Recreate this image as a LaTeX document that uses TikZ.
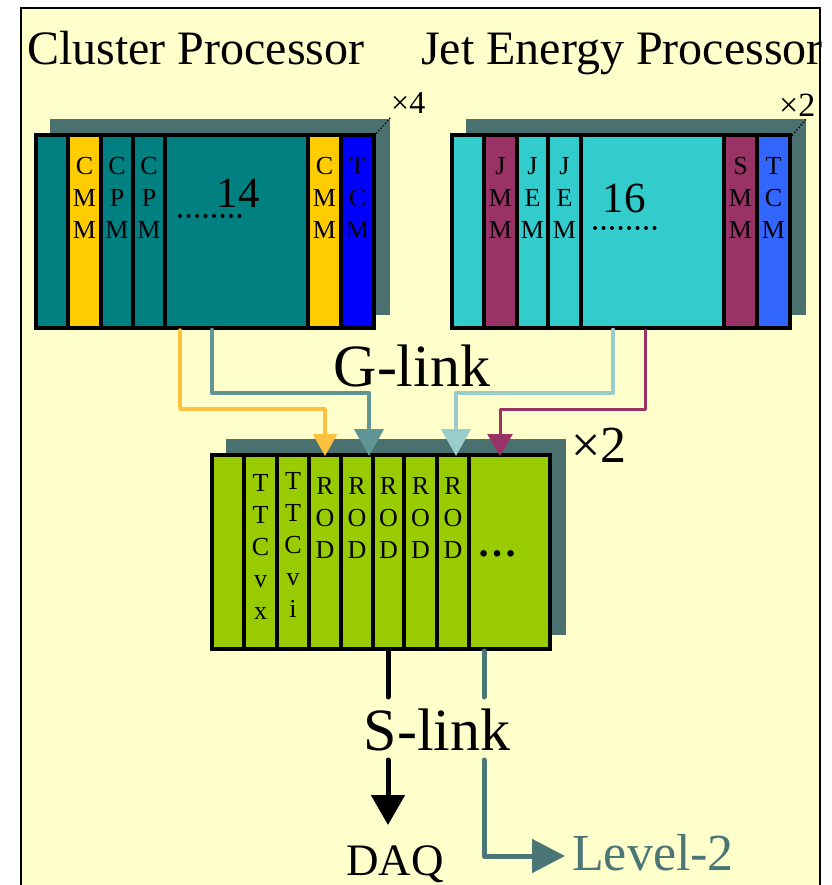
\documentclass[tikz,border=0pt]{standalone}
\usepackage{fontspec}
\setmainfont{Liberation Serif}
\usetikzlibrary{arrows.meta}
\definecolor{bgyellow}{HTML}{FFFFCC}
\definecolor{shadowc}{HTML}{4A7070}
\definecolor{cpteal}{HTML}{008080}
\definecolor{jecyan}{HTML}{33CCCC}
\definecolor{cmmyellow}{HTML}{FFCC00}
\definecolor{tcmblue}{HTML}{0000FF}
\definecolor{tcmblueb}{HTML}{3366FF}
\definecolor{jmaroon}{HTML}{993366}
\definecolor{rodgreen}{HTML}{99CC00}
\definecolor{glyellow}{HTML}{FFC040}
\definecolor{glteal}{HTML}{5F9595}
\definecolor{glblue}{HTML}{99CCCC}
\definecolor{ltwo}{HTML}{4A7676}
\begin{document}
\begin{tikzpicture}[x=1pt,y=-1pt,
  slotbox/.style={draw=black,line width=3.8pt,line join=miter},
  slottext/.style={anchor=north,inner sep=0pt,align=center,font=\fontsize{26}{32}\selectfont},
  title/.style={anchor=base west,inner sep=0pt,font=\fontsize{48}{50}\selectfont},
  bigtext/.style={anchor=base,inner sep=0pt,font=\fontsize{60}{62}\selectfont},
  numtext/.style={anchor=base,inner sep=0pt,font=\fontsize{43}{45}\selectfont},
  multtext/.style={anchor=base west,inner sep=0pt,font=\fontsize{32}{34}\selectfont},
  dotline/.style={line width=4pt,line cap=round,dash pattern=on 0pt off 8.5pt},
  glink/.style={line cap=round,line join=round},
  cornerdots/.style={line width=1.3pt,dotted}]
\useasboundingbox (0,0) rectangle (831,885);
\fill[white] (0,0) rectangle (831,885);
\draw[fill=bgyellow,line width=1.2pt] (21,8) rectangle (820,900);

% titles
\node[title] (cptitle) at (27,65) {Cluster Processor};
\node[title] (jeptitle) at (421,65) {Jet Energy Processor};

% ---------- Cluster Processor crate ----------
\fill[shadowc] (50,119) rectangle (390,315);
\foreach \a/\b/\c in {36/68/cpteal,68/101/cmmyellow,101/133/cpteal,133/165/cpteal,165/308/cpteal,308/341/cmmyellow,341/374/tcmblue}
  \draw[slotbox,fill=\c] (\a,135) rectangle (\b,328);
\node[slottext] (cmma) at (84.5,157) {C\\M\\M};
\node[slottext] (cpma) at (117,157) {C\\P\\M};
\node[slottext] (cpmb) at (149,157) {C\\P\\M};
\node[slottext] (cmmb) at (324.5,157) {C\\M\\M};
\node[slottext] (tcma) at (357.5,157) {T\\C\\M};
\node[numtext] (fourteen) at (238,208) {14};
\coordinate (dotsaL) at (180,216);
\coordinate (dotsaR) at (241,216);
\draw[dotline] (dotsaL) -- (dotsaR);
\coordinate (cornerA) at (374,136);
\coordinate (cornerAs) at (391,117);
\draw[cornerdots] (cornerA) -- (cornerAs);
\node[multtext,font=\fontsize{32}{34}\selectfont] (xfour) at (391,114) {×4};

% ---------- Jet Energy Processor crate ----------
\fill[shadowc] (466,119) rectangle (806,315);
\foreach \a/\b/\c in {452/484/jecyan,484/517/jmaroon,517/548/jecyan,548/581/jecyan,581/724/jecyan,724/757/jmaroon,757/790/tcmblueb}
  \draw[slotbox,fill=\c] (\a,135) rectangle (\b,328);
\node[slottext] (jmm) at (500.5,157) {J\\M\\M};
\node[slottext] (jema) at (532.5,157) {J\\E\\M};
\node[slottext] (jemb) at (564.5,157) {J\\E\\M};
\node[slottext] (smm) at (740.5,157) {S\\M\\M};
\node[slottext] (tcmb) at (773.5,157) {T\\C\\M};
\node[numtext] (sixteen) at (624,213) {16};
\coordinate (dotsbL) at (595,228);
\coordinate (dotsbR) at (657,228);
\draw[dotline] (dotsbL) -- (dotsbR);
\coordinate (cornerB) at (790,138);
\coordinate (cornerBs) at (807,118);
\draw[cornerdots] (cornerB) -- (cornerBs);
\node[multtext,font=\fontsize{34}{36}\selectfont] (xtwoa) at (779,117) {×2};

% ---------- ROD crate ----------
\fill[shadowc] (226,439) rectangle (566,635);
\foreach \a/\b in {212/244,244/277,277/309,309/341,341/373,373/404,404/437,437/469,469/550}
  \draw[slotbox,fill=rodgreen] (\a,455) rectangle (\b,649);
\node[slottext] (ttcvx) at (260.5,474) {T\\T\\C\\v\\x};
\node[slottext] (ttcvi) at (293,472) {T\\T\\C\\v\\i};
\node[slottext] (roda) at (325,477) {R\\O\\D};
\node[slottext] (rodb) at (357,477) {R\\O\\D};
\node[slottext] (rodc) at (388.5,477) {R\\O\\D};
\node[slottext] (rodd) at (420.5,477) {R\\O\\D};
\node[slottext] (rode) at (453,477) {R\\O\\D};
\node[anchor=base,inner sep=0pt,font=\fontsize{40}{40}\selectfont\bfseries] (moredots) at (497,556) {…};
\node[multtext,font=\fontsize{52}{54}\selectfont] (xtwob) at (571,462) {×2};

% ---------- G-link connectors ----------
\coordinate (gyA) at (180,330);  \coordinate (gyB) at (325,456);
\coordinate (gtA) at (212,330);  \coordinate (gtB) at (369,456);
\coordinate (gbA) at (613,330);  \coordinate (gbB) at (456,456);
\coordinate (gmA) at (645,330);  \coordinate (gmB) at (500,456);
\draw[glink,glyellow,line width=3.4pt,-{Triangle[width=24pt,length=22pt]}] (gyA) -- ++(0,79) -| (gyB);
\draw[glink,glteal,line width=4.6pt,-{Triangle[width=29pt,length=27pt]}] (gtA) -- ++(0,63) -| (gtB);
\draw[glink,glblue,line width=4.6pt,-{Triangle[width=29pt,length=27pt]}] (gbA) -- ++(0,63) -| (gbB);
\draw[glink,jmaroon,line width=3pt,-{Triangle[width=25pt,length=22pt]}] (gmA) -- ++(0,79) -| (gmB);
\node[bigtext] (glinklabel) at (412,386) {G-link};

% ---------- S-link outputs ----------
\node[bigtext] (slinklabel) at (437,750) {S-link};
\node[anchor=base,inner sep=0pt,font=\fontsize{45}{47}\selectfont] (daq) at (395,875) {DAQ};
\node[anchor=base west,inner sep=0pt,text=ltwo,font=\fontsize{52}{54}\selectfont] (level) at (572,870) {Level-2};
\coordinate (sdA) at (388,651); \coordinate (sdB) at (388,697);
\coordinate (sdC) at (388,760); \coordinate (sdD) at (388,825);
\coordinate (slA) at (484,651); \coordinate (slB) at (484,697);
\coordinate (slC) at (484,760); \coordinate (slD) at (565,856);
\draw[line width=5pt,line cap=round] (sdA) -- (sdB);
\draw[line width=5pt,line cap=round,-{Triangle[width=33pt,length=30pt]}] (sdC) -- (sdD);
\draw[ltwo,line width=5pt,line cap=round] (slA) -- (slB);
\draw[ltwo,line width=5pt,line cap=round,line join=round,-{Triangle[width=33pt,length=33pt]}] (slC) |- (slD);
\end{tikzpicture}
\end{document}
